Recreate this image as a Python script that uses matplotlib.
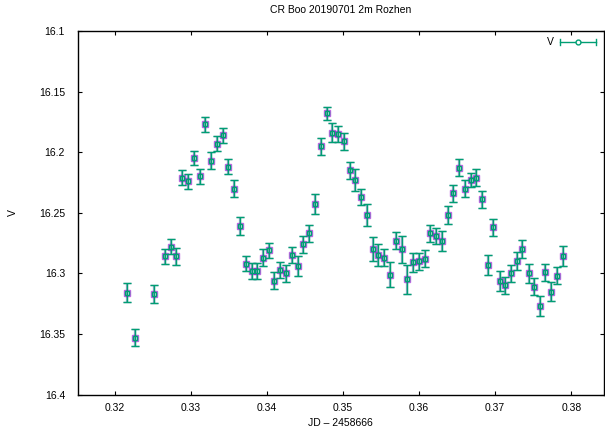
import matplotlib
matplotlib.use('Agg')
import matplotlib.pyplot as plt

# light curve, JD - 2458666
jd = [0.32159, 0.32264, 0.32513, 0.32662, 0.32737, 0.32810, 0.32889, 0.32964,
      0.33039, 0.33118, 0.33191, 0.33266, 0.33345, 0.33420, 0.33493, 0.33568,
      0.33647, 0.33722, 0.33800, 0.33874, 0.33949, 0.34028, 0.34097, 0.34176,
      0.34251, 0.34330, 0.34404, 0.34478, 0.34557, 0.34632, 0.34706, 0.34785,
      0.34859, 0.34934, 0.35009, 0.35087, 0.35161, 0.35236, 0.35315, 0.35389,
      0.35459, 0.35542, 0.35617, 0.35691, 0.35770, 0.35844, 0.35919, 0.35993,
      0.36072, 0.36146, 0.36221, 0.36299, 0.36374, 0.36448, 0.36527, 0.36601,
      0.36676, 0.36750, 0.36829, 0.36904, 0.36973, 0.37057, 0.37131, 0.37210,
      0.37284, 0.37359, 0.37438, 0.37512, 0.37586, 0.37661, 0.37735, 0.37814,
      0.37888]
vmag = [16.316, 16.353, 16.317, 16.286, 16.278, 16.286, 16.221, 16.224,
        16.205, 16.220, 16.177, 16.207, 16.193, 16.186, 16.212, 16.230,
        16.261, 16.292, 16.298, 16.298, 16.287, 16.281, 16.306, 16.297,
        16.300, 16.285, 16.294, 16.276, 16.267, 16.243, 16.195, 16.168,
        16.184, 16.185, 16.191, 16.215, 16.223, 16.237, 16.252, 16.280,
        16.285, 16.287, 16.301, 16.273, 16.280, 16.305, 16.291, 16.290,
        16.288, 16.267, 16.269, 16.273, 16.252, 16.234, 16.213, 16.230,
        16.223, 16.221, 16.239, 16.293, 16.262, 16.306, 16.310, 16.300,
        16.290, 16.280, 16.300, 16.311, 16.327, 16.299, 16.315, 16.302,
        16.286]
verr = [0.0080, 0.0072, 0.0072, 0.0061, 0.0062, 0.0073, 0.0063, 0.0062,
        0.0060, 0.0062, 0.0063, 0.0073, 0.0061, 0.0062, 0.0062, 0.0071,
        0.0072, 0.0062, 0.0066, 0.0066, 0.0070, 0.0063, 0.0070, 0.0066,
        0.0070, 0.0068, 0.0080, 0.0070, 0.0071, 0.0081, 0.0070, 0.0051,
        0.0080, 0.0070, 0.0070, 0.0070, 0.0090, 0.0070, 0.0091, 0.0101,
        0.0090, 0.0070, 0.0102, 0.0070, 0.0111, 0.0120, 0.0081, 0.0071,
        0.0070, 0.0070, 0.0068, 0.0083, 0.0072, 0.0071, 0.0070, 0.0071,
        0.0061, 0.0071, 0.0071, 0.0080, 0.0071, 0.0083, 0.0071, 0.0071,
        0.0073, 0.0073, 0.0080, 0.0070, 0.0080, 0.0071, 0.0080, 0.0072,
        0.0083]

xticks = [0.32, 0.33, 0.34, 0.35, 0.36, 0.37, 0.38]
yticks = [16.1, 16.15, 16.2, 16.25, 16.3, 16.35, 16.4]

purple = '#9400d3'
teal = '#009e73'

plt.rcParams['font.family'] = ['Liberation Sans', 'DejaVu Sans']
plt.rcParams['font.size'] = 7.5

fig = plt.figure(figsize=(6.05, 4.33), dpi=100)
ax = fig.add_axes([0.1281, 0.0889, 0.8702, 0.8395])

# gnuplot-ish: points drawn twice, purple under teal
ax.errorbar(jd, vmag, yerr=verr, fmt='s', ms=5, mfc='none', mec=purple,
            mew=1.0, ecolor='#4a6fa0', elinewidth=1.6, capsize=3, capthick=1.6,
            alpha=0.6, zorder=2)
ax.errorbar(jd, vmag, yerr=verr, fmt='s', ms=3, mfc='none', mec=teal,
            mew=1.0, ecolor=teal, elinewidth=1.0, capsize=3, capthick=1.0,
            zorder=3)

ax.set_xlim(0.3151, 0.3843)
ax.set_ylim(16.4, 16.1)
ax.set_xticks(xticks)
ax.set_xticklabels(['%g' % t for t in xticks])
ax.set_yticks(yticks)
ax.set_yticklabels(['%g' % t for t in yticks])
ax.tick_params(direction='in', top=True, right=True, length=3, width=0.8)
ax.tick_params(axis='x', pad=6)
ax.tick_params(axis='y', pad=9)
for s in ax.spines.values():
    s.set_linewidth(1.0)

fig.text(0.5636, 1 - 10 / 433, 'CR Boo 20190701 2m Rozhen', ha='center',
         va='center')
ax.set_xlabel('JD \u2013 2458666', labelpad=4)
ax.set_ylabel('V', rotation=90, labelpad=15)

# key, gnuplot style (horizontal errorbar sample)
tr = ax.transAxes
ax.plot([0.9164, 0.9848], [0.9697, 0.9697], color=teal, lw=1.0, transform=tr)
ax.plot([0.9164, 0.9164], [0.962, 0.9774], color=teal, lw=1.0, transform=tr)
ax.plot([0.9848, 0.9848], [0.962, 0.9774], color=teal, lw=1.0, transform=tr)
ax.plot([0.9506], [0.9697], 'o', ms=3.5, mfc='white', mec=teal, mew=1.0,
        transform=tr)
ax.text(0.905, 0.9697, 'V', ha='right', va='center', transform=tr)

fig.savefig('out.png', dpi=100)
